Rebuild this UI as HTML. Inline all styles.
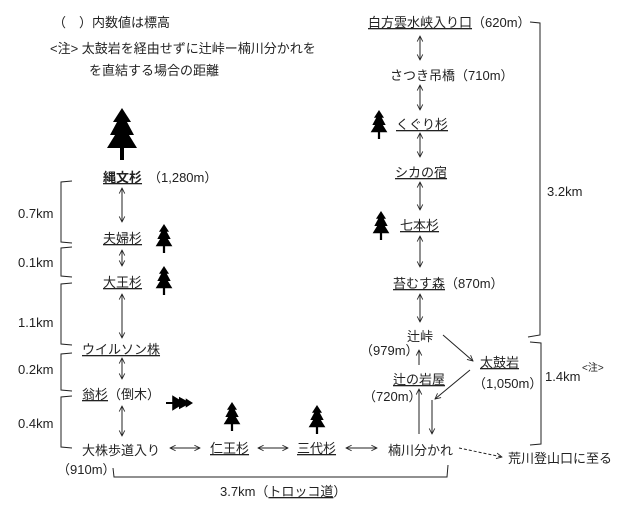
<!DOCTYPE html>
<html><head><meta charset="utf-8"><style>
html,body{margin:0;padding:0;background:#fff;}
svg{display:block;}
text{font-family:"Liberation Sans","Noto Sans CJK JP",sans-serif;font-size:13px;fill:#222;}
</style></head><body>
<svg width="640" height="510" viewBox="0 0 640 510" xmlns="http://www.w3.org/2000/svg">
<defs>
<marker id="a" viewBox="0 0 10 10" refX="9" refY="5" markerWidth="7" markerHeight="7" orient="auto-start-reverse" markerUnits="userSpaceOnUse"><path d="M1,1 L9,5 L1,9" fill="none" stroke="#222" stroke-width="1.2"/></marker>
<symbol id="t" viewBox="0 0 30 52"><path d="M15,0 L6,14 L10,14 L3,27 L8,27 L0,40 L13,40 L13,52 L17,52 L17,40 L30,40 L22,27 L27,27 L20,14 L24,14 Z" fill="#000"/></symbol>
</defs>
<g stroke="#222" stroke-width="1" fill="none">
<line x1="122" y1="188" x2="122" y2="222" marker-start="url(#a)" marker-end="url(#a)"/>
<line x1="122" y1="250" x2="122" y2="266" marker-start="url(#a)" marker-end="url(#a)"/>
<line x1="122" y1="294" x2="122" y2="338" marker-start="url(#a)" marker-end="url(#a)"/>
<line x1="122" y1="358" x2="122" y2="379" marker-start="url(#a)" marker-end="url(#a)"/>
<line x1="122" y1="406" x2="122" y2="436" marker-start="url(#a)" marker-end="url(#a)"/>
<line x1="170" y1="448" x2="200" y2="448" marker-start="url(#a)" marker-end="url(#a)"/>
<line x1="258" y1="448" x2="288" y2="448" marker-start="url(#a)" marker-end="url(#a)"/>
<line x1="346" y1="448" x2="377" y2="448" marker-start="url(#a)" marker-end="url(#a)"/>
<line x1="459" y1="448" x2="502" y2="457" stroke-dasharray="3,2" marker-end="url(#a)"/>
<path d="M72,181 L61,182 L61,242 L72,243"/>
<path d="M72,247 L61,248 L61,276 L72,277"/>
<path d="M72,283 L61,284 L61,344 L72,345"/>
<path d="M72,353 L61,354 L61,390 L72,391"/>
<path d="M72,396 L61,397 L61,447 L72,448"/>
<path d="M113,468 L114,477 L447,477 L448,465"/>
<line x1="420" y1="36" x2="420" y2="60" marker-start="url(#a)" marker-end="url(#a)"/>
<line x1="420" y1="85" x2="420" y2="110" marker-start="url(#a)" marker-end="url(#a)"/>
<line x1="420" y1="133" x2="420" y2="157" marker-start="url(#a)" marker-end="url(#a)"/>
<line x1="420" y1="182" x2="420" y2="210" marker-start="url(#a)" marker-end="url(#a)"/>
<line x1="420" y1="236" x2="420" y2="267" marker-start="url(#a)" marker-end="url(#a)"/>
<line x1="420" y1="294" x2="420" y2="322" marker-start="url(#a)" marker-end="url(#a)"/>
<line x1="419" y1="365" x2="419" y2="350" marker-end="url(#a)"/>
<line x1="419" y1="434" x2="419" y2="389" marker-end="url(#a)"/>
<line x1="432" y1="400" x2="432" y2="434" marker-end="url(#a)"/>
<line x1="443" y1="335" x2="473" y2="361" marker-end="url(#a)"/>
<line x1="470" y1="370" x2="435" y2="399" marker-end="url(#a)"/>
<path d="M530,22 L540,23 L540,335 L528,337"/>
<path d="M530,342 L541,343 L541,444 L530,445"/>
</g>
<use href="#t" x="107" y="108" width="30" height="52"/>
<use href="#t" x="155" y="224" width="18" height="29"/>
<use href="#t" x="155" y="266" width="18" height="29"/>
<use href="#t" x="223" y="402" width="18" height="29"/>
<use href="#t" x="308" y="405" width="18" height="29"/>
<use href="#t" x="370" y="110" width="18" height="29"/>
<use href="#t" x="372" y="211" width="18" height="29"/>
<g transform="translate(166,403) rotate(90)"><use href="#t" x="-8" y="-27" width="16" height="27"/></g>
<text x="53" y="27">（　）内数値は標高</text>
<text x="50" y="53">&lt;注&gt; 太鼓岩を経由せずに辻峠ー楠川分かれを</text>
<text x="89" y="75">を直結する場合の距離</text>
<text x="103" y="182" font-weight="bold" text-decoration="underline">縄文杉</text>
<text x="148" y="182">（1,280m）</text>
<text x="103" y="243" text-decoration="underline">夫婦杉</text>
<text x="103" y="287" text-decoration="underline">大王杉</text>
<text x="82" y="354" text-decoration="underline">ウイルソン株</text>
<text x="82" y="399"><tspan text-decoration="underline">翁杉</tspan>（倒木）</text>
<text x="82" y="455">大株歩道入り</text>
<text x="57" y="474">（910m）</text>
<text x="210" y="453" text-decoration="underline">仁王杉</text>
<text x="297" y="453" text-decoration="underline">三代杉</text>
<text x="388" y="455">楠川分かれ</text>
<text x="508" y="463">荒川登山口に至る</text>
<text x="220" y="496">3.7km（<tspan text-decoration="underline">トロッコ道</tspan>）</text>
<text x="18" y="218">0.7km</text>
<text x="18" y="267">0.1km</text>
<text x="18" y="327">1.1km</text>
<text x="18" y="374">0.2km</text>
<text x="18" y="428">0.4km</text>
<text x="368" y="27"><tspan text-decoration="underline">白方雲水峡入り口</tspan>（620m）</text>
<text x="390" y="80">さつき吊橋（710m）</text>
<text x="396" y="129" text-decoration="underline">くぐり杉</text>
<text x="395" y="177" text-decoration="underline">シカの宿</text>
<text x="400" y="230" text-decoration="underline">七本杉</text>
<text x="393" y="288"><tspan text-decoration="underline">苔むす森</tspan>（870m）</text>
<text x="407" y="341">辻峠</text>
<text x="360" y="355">（979m）</text>
<text x="393" y="384" text-decoration="underline">辻の岩屋</text>
<text x="363" y="401">（720m）</text>
<text x="480" y="367" text-decoration="underline">太鼓岩</text>
<text x="473" y="388">（1,050m）</text>
<text x="547" y="196">3.2km</text>
<text x="545" y="381">1.4km</text>
<text x="582" y="371" style="font-size:10px">&lt;注&gt;</text>
</svg>
</body></html>
